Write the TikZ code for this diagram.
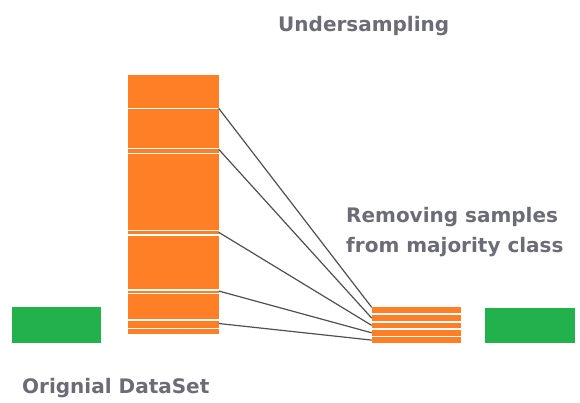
\documentclass[tikz,border=0pt]{standalone}
\usepackage{fontspec}
\setmainfont{DejaVu Sans}
\definecolor{barorange}{RGB}{255,127,39}
\definecolor{bargreen}{RGB}{34,177,76}
\definecolor{labelgray}{RGB}{108,108,118}
\definecolor{linkgray}{RGB}{80,80,80}
\tikzset{
  block/.style={rectangle, inner sep=0pt, outer sep=0pt, anchor=north west},
  orangebar/.style={block, fill=barorange},
  greenbar/.style={block, fill=bargreen},
  gap/.style={white, line width=1.1pt},
  link/.style={linkgray, line width=1.2pt},
  caption/.style={text=labelgray, inner sep=0pt, anchor=base west,
    font=\bfseries\fontsize{20}{30}\selectfont},
}
\begin{document}
\begin{tikzpicture}[x=1pt, y=-1pt]
\useasboundingbox[fill=white] (0,0) rectangle (580,402);

% original dataset: minority (green) and majority (orange) classes
\node[greenbar, minimum width=89pt, minimum height=36pt] (minorityA) at (11.7,307.3) {};
\node[orangebar, minimum width=90.4pt, minimum height=259pt] (majority) at (128.3,75) {};
\foreach \y in {108.3,148.3,153.3,230.7,235,290,293.3,320,328.3}
  \draw[gap] (majority.west |- 0,\y) -- (majority.east |- 0,\y);

% undersampled majority class
\node[orangebar, minimum width=89pt, minimum height=6pt] (r1) at (371.7,307.3) {};
\node[orangebar, minimum width=89pt, minimum height=5.6pt] (r2) at (371.7,315.3) {};
\node[orangebar, minimum width=89pt, minimum height=5.6pt] (r3) at (371.7,322.6) {};
\node[orangebar, minimum width=89pt, minimum height=5.6pt] (r4) at (371.7,330.0) {};
\node[orangebar, minimum width=89pt, minimum height=5.4pt] (r5) at (371.7,337.4) {};
\node[greenbar, minimum width=90pt, minimum height=35.6pt] (minorityB) at (485,307.7) {};

% links from the original samples to the kept samples
\coordinate (s1) at (majority.east |- 0,108.3);
\coordinate (s2) at (majority.east |- 0,149.3);
\coordinate (s3) at (majority.east |- 0,232.3);
\coordinate (s4) at (majority.east |- 0,291.0);
\coordinate (s5) at (majority.east |- 0,323.5);
\draw[link] (s1) -- (r1.north west);
\draw[link] (s2) -- (r2.west);
\draw[link] (s3) -- (r3.west);
\draw[link] (s4) -- (r4.west);
\draw[link] (s5) -- (r5.west);

% labels
\node[caption] (title) at (278,31.5) {Undersampling};
\node[caption, align=left, anchor=north west] (note) at (346,207.5)
  {Removing samples\\from majority class};
\node[caption] (orig) at (22,393) {Orignial DataSet};
\end{tikzpicture}
\end{document}
